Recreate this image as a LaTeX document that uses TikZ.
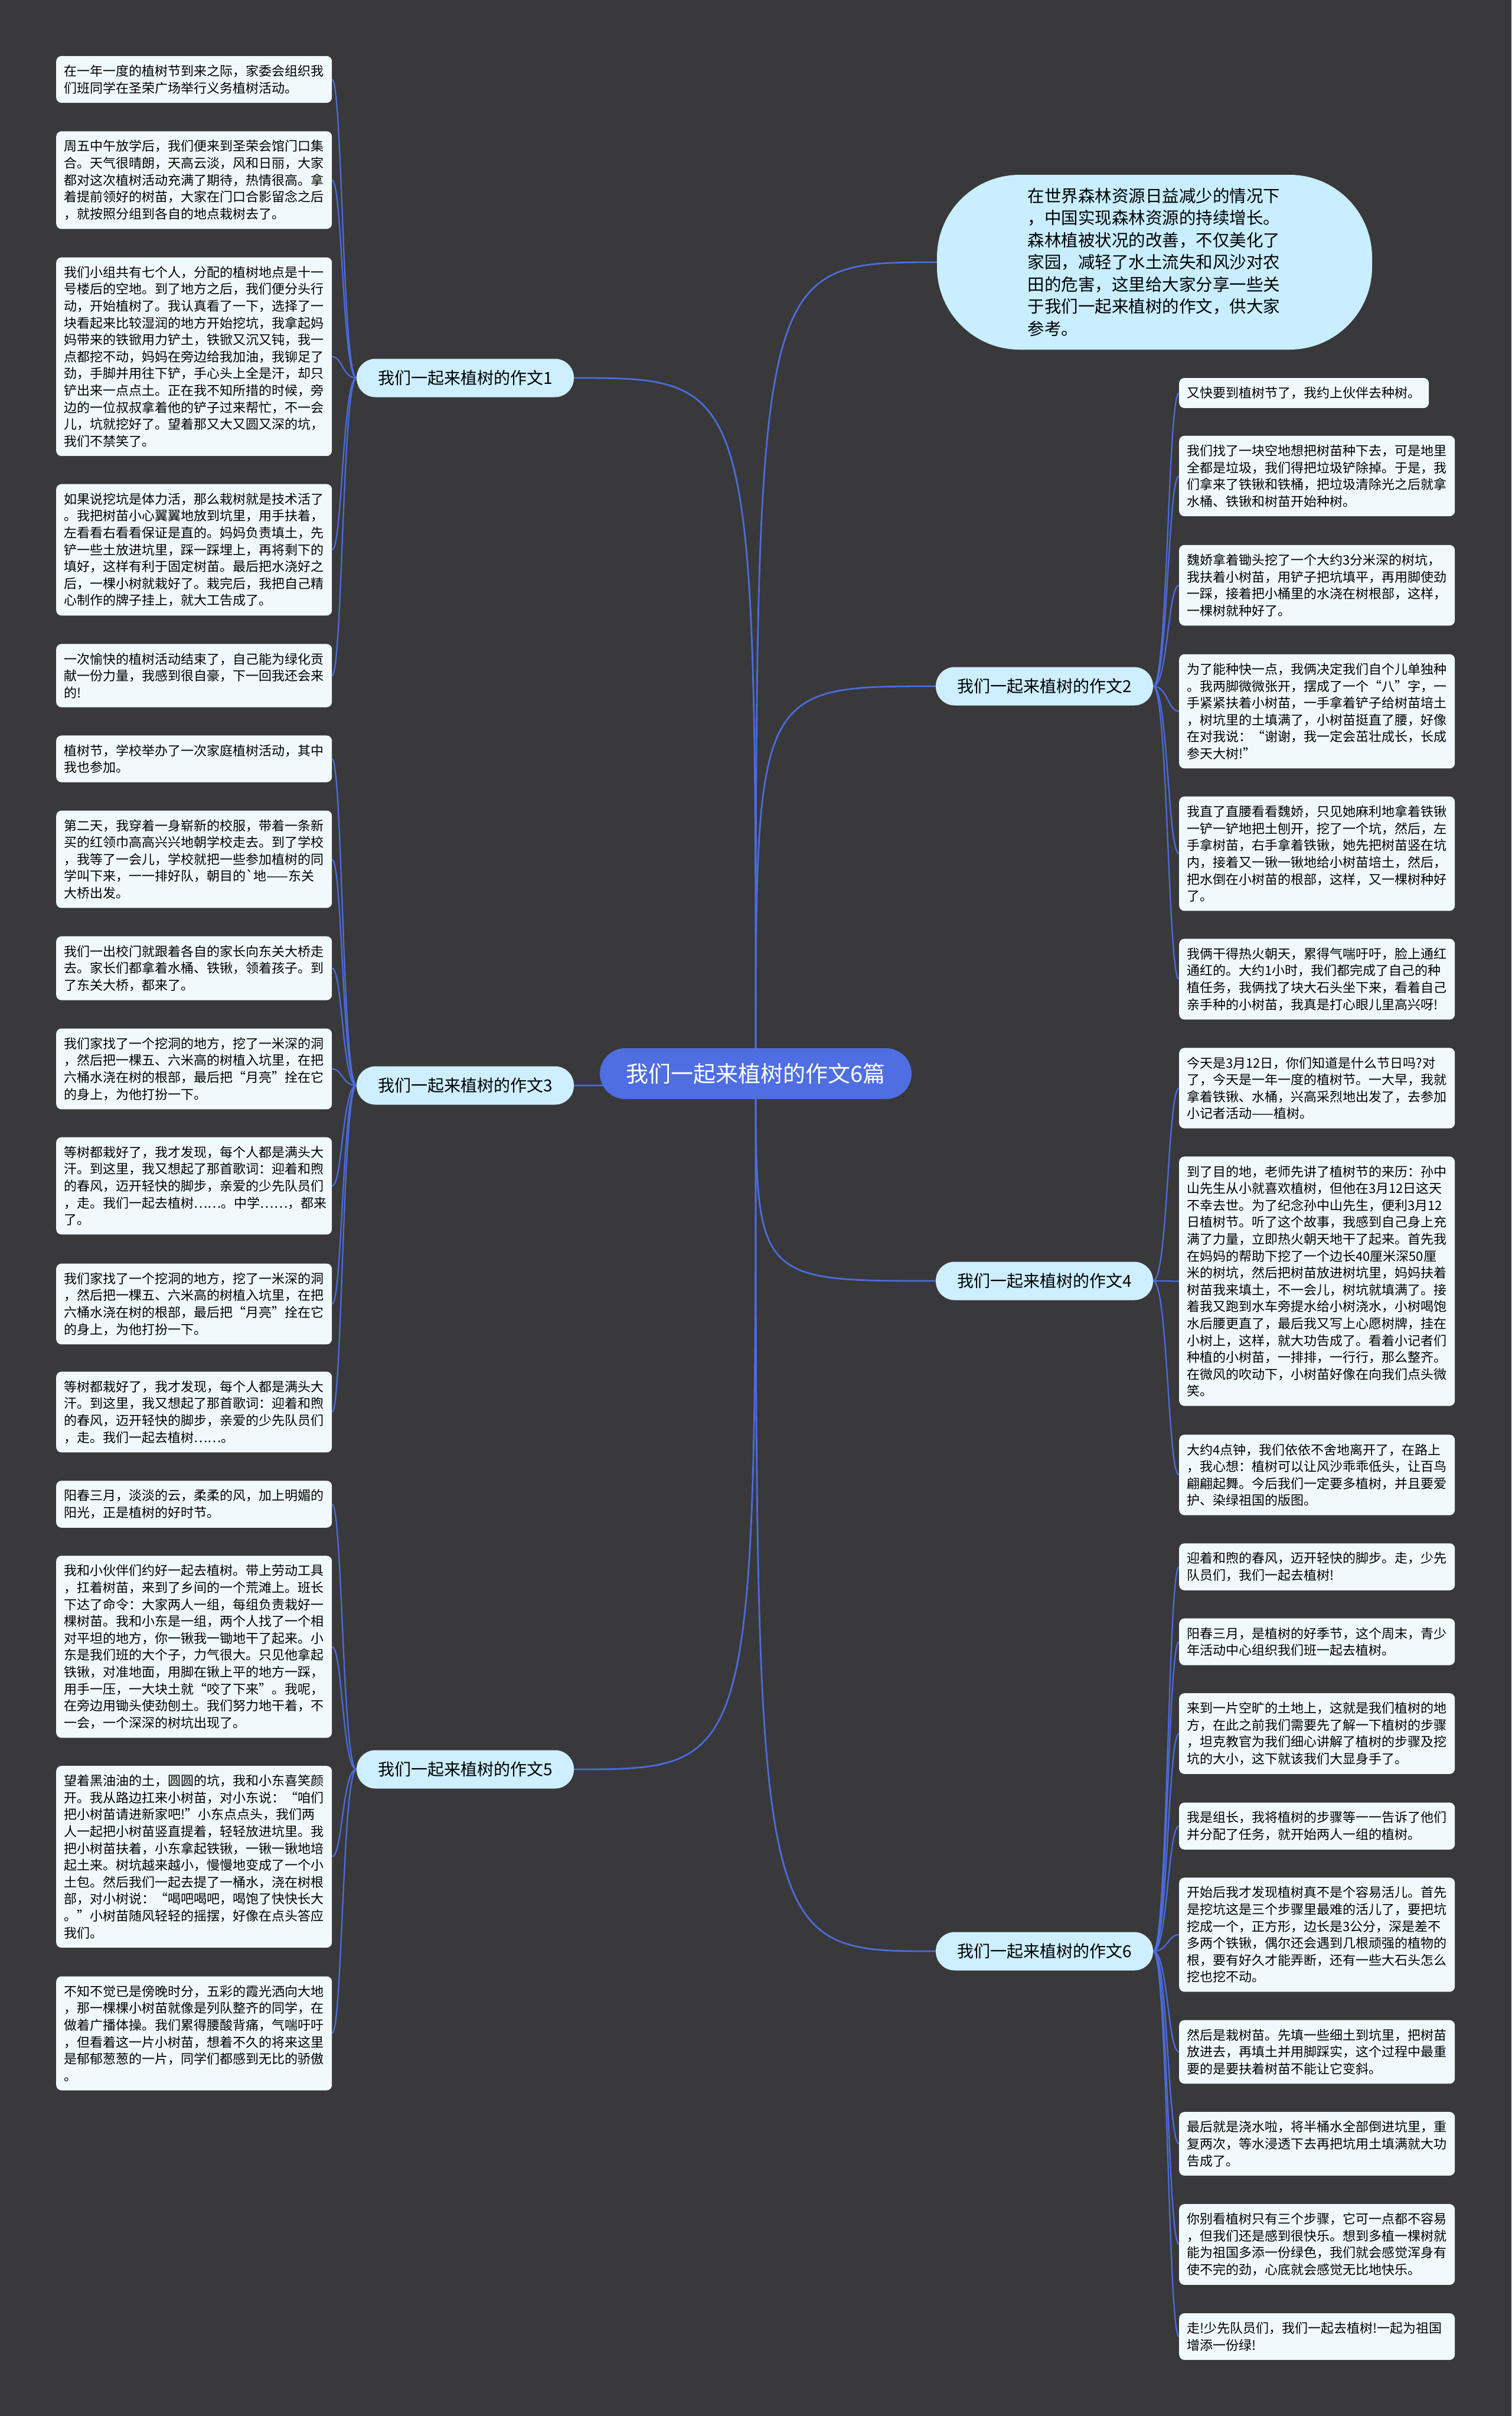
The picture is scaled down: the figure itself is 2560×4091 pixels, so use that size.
\documentclass[tikz,border=0pt]{standalone}
\usepackage{fontspec}
\setmainfont{Noto Sans CJK SC}
\pgfdeclarelayer{background}
\pgfsetlayers{background,main}
\definecolor{bgc}{HTML}{39383A}
\definecolor{leafc}{HTML}{F0FAFC}
\definecolor{brc}{HTML}{CDEFFF}
\definecolor{bubc}{HTML}{C8EEFF}
\definecolor{cenc}{HTML}{4E6EE1}
\definecolor{linec}{HTML}{4B6CDC}
\begin{document}
\begin{tikzpicture}[x=1pt,y=-1pt,
  leaf/.style={fill=leafc, rounded corners=9pt, inner xsep=13pt, inner ysep=15pt,
    text width=441pt, align=left, font=\fontsize{22pt}{28.6pt}\selectfont, text=black, anchor=west},
  branch/.style={fill=brc, rounded corners=32pt, minimum width=368pt, minimum height=65pt,
    inner sep=0pt, font=\fontsize{28pt}{34pt}\selectfont, text=black},
  centre/.style={fill=cenc, rounded corners=43pt, minimum width=528pt, minimum height=86pt,
    inner sep=0pt, font=\fontsize{38pt}{44pt}\selectfont, text=white},
  bubble/.style={fill=bubc, rounded corners=140pt, minimum width=737pt, minimum height=296pt,
    inner sep=0pt, text width=430pt, align=left, font=\fontsize{28.5pt}{37.5pt}\selectfont, text=black},
  mconn/.style={draw=linec, line width=2.8pt},
  lconn/.style={draw=linec, line width=2.3pt}]

\useasboundingbox (0,0) rectangle (2560,4091);
\coordinate (sL) at (580,0);
\coordinate (sR) at (1978,0);

% centre, bubble, branches
\node[centre] (c) at (1280,1818) {我们一起来植树的作文6篇};
\node[bubble] (top) at (1955.5,444) {在世界森林资源日益减少的情况下\\，中国实现森林资源的持续增长。\\森林植被状况的改善，不仅美化了\\家园，减轻了水土流失和风沙对农\\田的危害，这里给大家分享一些关\\于我们一起来植树的作文，供大家\\参考。};
\node[branch] (b1) at (788,640) {我们一起来植树的作文1};
\node[branch] (b3) at (788,1838) {我们一起来植树的作文3};
\node[branch] (b5) at (788,2996) {我们一起来植树的作文5};
\node[branch] (b2) at (1769,1162) {我们一起来植树的作文2};
\node[branch] (b4) at (1769,2169) {我们一起来植树的作文4};
\node[branch] (b6) at (1769,3304) {我们一起来植树的作文6};

% left leaves
\node[leaf] (l1) at (95,134.5) {在一年一度的植树节到来之际，家委会组织我\\们班同学在圣荣广场举行义务植树活动。};
\node[leaf] (l2) at (95,305) {周五中午放学后，我们便来到圣荣会馆门口集\\合。天气很晴朗，天高云淡，风和日丽，大家\\都对这次植树活动充满了期待，热情很高。拿\\着提前领好的树苗，大家在门口合影留念之后\\，就按照分组到各自的地点栽树去了。};
\node[leaf] (l3) at (95,604) {我们小组共有七个人，分配的植树地点是十一\\号楼后的空地。到了地方之后，我们便分头行\\动，开始植树了。我认真看了一下，选择了一\\块看起来比较湿润的地方开始挖坑，我拿起妈\\妈带来的铁锨用力铲土，铁锨又沉又钝，我一\\点都挖不动，妈妈在旁边给我加油，我铆足了\\劲，手脚并用往下铲，手心头上全是汗，却只\\铲出来一点点土。正在我不知所措的时候，旁\\边的一位叔叔拿着他的铲子过来帮忙，不一会\\儿，坑就挖好了。望着那又大又圆又深的坑，\\我们不禁笑了。};
\node[leaf] (l4) at (95,931) {如果说挖坑是体力活，那么栽树就是技术活了\\。我把树苗小心翼翼地放到坑里，用手扶着，\\左看看右看看保证是直的。妈妈负责填土，先\\铲一些土放进坑里，踩一踩埋上，再将剩下的\\填好，这样有利于固定树苗。最后把水浇好之\\后，一棵小树就栽好了。栽完后，我把自己精\\心制作的牌子挂上，就大工告成了。};
\node[leaf] (l5) at (95,1144) {一次愉快的植树活动结束了，自己能为绿化贡\\献一份力量，我感到很自豪，下一回我还会来\\的!};
\node[leaf] (l6) at (95,1285) {植树节，学校举办了一次家庭植树活动，其中\\我也参加。};
\node[leaf] (l7) at (95,1455) {第二天，我穿着一身崭新的校服，带着一条新\\买的红领巾高高兴兴地朝学校走去。到了学校\\，我等了一会儿，学校就把一些参加植树的同\\学叫下来，一一排好队，朝目的\textasciigrave 地——东关\\大桥出发。};
\node[leaf] (l8) at (95,1639.5) {我们一出校门就跟着各自的家长向东关大桥走\\去。家长们都拿着水桶、铁锹，领着孩子。到\\了东关大桥，都来了。};
\node[leaf] (l9) at (95,1810) {我们家找了一个挖洞的地方，挖了一米深的洞\\，然后把一棵五、六米高的树植入坑里，在把\\六桶水浇在树的根部，最后把“月亮”拴在它\\的身上，为他打扮一下。};
\node[leaf] (l10) at (95,2008) {等树都栽好了，我才发现，每个人都是满头大\\汗。到这里，我又想起了那首歌词：迎着和煦\\的春风，迈开轻快的脚步，亲爱的少先队员们\\，走。我们一起去植树……。中学……，都来\\了。};
\node[leaf] (l11) at (95,2208) {我们家找了一个挖洞的地方，挖了一米深的洞\\，然后把一棵五、六米高的树植入坑里，在把\\六桶水浇在树的根部，最后把“月亮”拴在它\\的身上，为他打扮一下。};
\node[leaf] (l12) at (95,2391) {等树都栽好了，我才发现，每个人都是满头大\\汗。到这里，我又想起了那首歌词：迎着和煦\\的春风，迈开轻快的脚步，亲爱的少先队员们\\，走。我们一起去植树……。};
\node[leaf] (l13) at (95,2547) {阳春三月，淡淡的云，柔柔的风，加上明媚的\\阳光，正是植树的好时节。};
\node[leaf] (l14) at (95,2788.5) {我和小伙伴们约好一起去植树。带上劳动工具\\，扛着树苗，来到了乡间的一个荒滩上。班长\\下达了命令：大家两人一组，每组负责栽好一\\棵树苗。我和小东是一组，两个人找了一个相\\对平坦的地方，你一锹我一锄地干了起来。小\\东是我们班的大个子，力气很大。只见他拿起\\铁锹，对准地面，用脚在锹上平的地方一踩，\\用手一压，一大块土就“咬了下来”。我呢，\\在旁边用锄头使劲刨土。我们努力地干着，不\\一会，一个深深的树坑出现了。};
\node[leaf] (l15) at (95,3144) {望着黑油油的土，圆圆的坑，我和小东喜笑颜\\开。我从路边扛来小树苗，对小东说：“咱们\\把小树苗请进新家吧!”小东点点头，我们两\\人一起把小树苗竖直提着，轻轻放进坑里。我\\把小树苗扶着，小东拿起铁锹，一锹一锹地培\\起土来。树坑越来越小，慢慢地变成了一个小\\土包。然后我们一起去提了一桶水，浇在树根\\部，对小树说：“喝吧喝吧，喝饱了快快长大\\。”小树苗随风轻轻的摇摆，好像在点头答应\\我们。};
\node[leaf] (l16) at (95,3443) {不知不觉已是傍晚时分，五彩的霞光洒向大地\\，那一棵棵小树苗就像是列队整齐的同学，在\\做着广播体操。我们累得腰酸背痛，气喘吁吁\\，但看着这一片小树苗，想着不久的将来这里\\是郁郁葱葱的一片，同学们都感到无比的骄傲\\。};

% right leaves
\node[leaf, text width=397pt] (r1) at (1997,665.5) {又快要到植树节了，我约上伙伴去种树。};
\node[leaf] (r2) at (1997,806) {我们找了一块空地想把树苗种下去，可是地里\\全都是垃圾，我们得把垃圾铲除掉。于是，我\\们拿来了铁锹和铁桶，把垃圾清除光之后就拿\\水桶、铁锹和树苗开始种树。};
\node[leaf] (r3) at (1997,991) {魏娇拿着锄头挖了一个大约3分米深的树坑，\\我扶着小树苗，用铲子把坑填平，再用脚使劲\\一踩，接着把小桶里的水浇在树根部，这样，\\一棵树就种好了。};
\node[leaf] (r4) at (1997,1204.5) {为了能种快一点，我俩决定我们自个儿单独种\\。我两脚微微张开，摆成了一个“八”字，一\\手紧紧扶着小树苗，一手拿着铲子给树苗培土\\，树坑里的土填满了，小树苗挺直了腰，好像\\在对我说：“谢谢，我一定会茁壮成长，长成\\参天大树!”};
\node[leaf] (r5) at (1997,1445.5) {我直了直腰看看魏娇，只见她麻利地拿着铁锹\\一铲一铲地把土刨开，挖了一个坑，然后，左\\手拿树苗，右手拿着铁锹，她先把树苗竖在坑\\内，接着又一锹一锹地给小树苗培土，然后，\\把水倒在小树苗的根部，这样，又一棵树种好\\了。};
\node[leaf] (r6) at (1997,1658) {我俩干得热火朝天，累得气喘吁吁，脸上通红\\通红的。大约1小时，我们都完成了自己的种\\植任务，我俩找了块大石头坐下来，看着自己\\亲手种的小树苗，我真是打心眼儿里高兴呀!};
\node[leaf] (r7) at (1997,1842.5) {今天是3月12日，你们知道是什么节日吗?对\\了，今天是一年一度的植树节。一大早，我就\\拿着铁锹、水桶，兴高采烈地出发了，去参加\\小记者活动——植树。};
\node[leaf] (r8) at (1997,2169.5) {到了目的地，老师先讲了植树节的来历：孙中\\山先生从小就喜欢植树，但他在3月12日这天\\不幸去世。为了纪念孙中山先生，便利3月12\\日植树节。听了这个故事，我感到自己身上充\\满了力量，立即热火朝天地干了起来。首先我\\在妈妈的帮助下挖了一个边长40厘米深50厘\\米的树坑，然后把树苗放进树坑里，妈妈扶着\\树苗我来填土，不一会儿，树坑就填满了。接\\着我又跑到水车旁提水给小树浇水，小树喝饱\\水后腰更直了，最后我又写上心愿树牌，挂在\\小树上，这样，就大功告成了。看着小记者们\\种植的小树苗，一排排，一行行，那么整齐。\\在微风的吹动下，小树苗好像在向我们点头微\\笑。};
\node[leaf] (r9) at (1997,2497.5) {大约4点钟，我们依依不舍地离开了，在路上\\，我心想：植树可以让风沙乖乖低头，让百鸟\\翩翩起舞。今后我们一定要多植树，并且要爱\\护、染绿祖国的版图。};
\node[leaf] (r10) at (1997,2653) {迎着和煦的春风，迈开轻快的脚步。走，少先\\队员们，我们一起去植树!};
\node[leaf] (r11) at (1997,2780) {阳春三月，是植树的好季节，这个周末，青少\\年活动中心组织我们班一起去植树。};
\node[leaf] (r12) at (1997,2935.5) {来到一片空旷的土地上，这就是我们植树的地\\方，在此之前我们需要先了解一下植树的步骤\\，坦克教官为我们细心讲解了植树的步骤及挖\\坑的大小，这下就该我们大显身手了。};
\node[leaf] (r13) at (1997,3092) {我是组长，我将植树的步骤等一一告诉了他们\\并分配了任务，就开始两人一组的植树。};
\node[leaf] (r14) at (1997,3276) {开始后我才发现植树真不是个容易活儿。首先\\是挖坑这是三个步骤里最难的活儿了，要把坑\\挖成一个，正方形，边长是3公分，深是差不\\多两个铁锹，偶尔还会遇到几根顽强的植物的\\根，要有好久才能弄断，还有一些大石头怎么\\挖也挖不动。};
\node[leaf] (r15) at (1997,3474.5) {然后是栽树苗。先填一些细土到坑里，把树苗\\放进去，再填土并用脚踩实，这个过程中最重\\要的是要扶着树苗不能让它变斜。};
\node[leaf] (r16) at (1997,3630) {最后就是浇水啦，将半桶水全部倒进坑里，重\\复两次，等水浸透下去再把坑用土填满就大功\\告成了。};
\node[leaf] (r17) at (1997,3800.5) {你别看植树只有三个步骤，它可一点都不容易\\，但我们还是感到很快乐。想到多植一棵树就\\能为祖国多添一份绿色，我们就会感觉浑身有\\使不完的劲，心底就会感觉无比地快乐。};
\node[leaf] (r18) at (1997,3956.5) {走!少先队员们，我们一起去植树!一起为祖国\\增添一份绿!};

\begin{pgfonlayer}{background}
  \fill[bgc] (0,0) rectangle (2560,4091);
  % centre connectors
  \draw[mconn] (c.center) .. controls (c.center |- top.west) .. (top.west);
  \foreach \b in {b1,b3,b5}
    \draw[mconn] (c.center) .. controls (c.center |- \b.east) .. (\b.east);
  \foreach \b in {b2,b4,b6}
    \draw[mconn] (c.center) .. controls (c.center |- \b.west) .. (\b.west);
  % left leaf connectors
  \foreach \l in {l1,l2,l3,l4,l5}
    \draw[lconn] (b1.west) .. controls (sL |- b1.west) and (sL |- \l.east) .. (\l.east);
  \foreach \l in {l6,l7,l8,l9,l10,l11,l12}
    \draw[lconn] (b3.west) .. controls (sL |- b3.west) and (sL |- \l.east) .. (\l.east);
  \foreach \l in {l13,l14,l15,l16}
    \draw[lconn] (b5.west) .. controls (sL |- b5.west) and (sL |- \l.east) .. (\l.east);
  % right leaf connectors
  \foreach \l in {r1,r2,r3,r4,r5,r6}
    \draw[lconn] (b2.east) .. controls (sR |- b2.east) and (sR |- \l.west) .. (\l.west);
  \foreach \l in {r7,r8,r9}
    \draw[lconn] (b4.east) .. controls (sR |- b4.east) and (sR |- \l.west) .. (\l.west);
  \foreach \l in {r10,r11,r12,r13,r14,r15,r16,r17,r18}
    \draw[lconn] (b6.east) .. controls (sR |- b6.east) and (sR |- \l.west) .. (\l.west);
\end{pgfonlayer}
\end{tikzpicture}
\end{document}
